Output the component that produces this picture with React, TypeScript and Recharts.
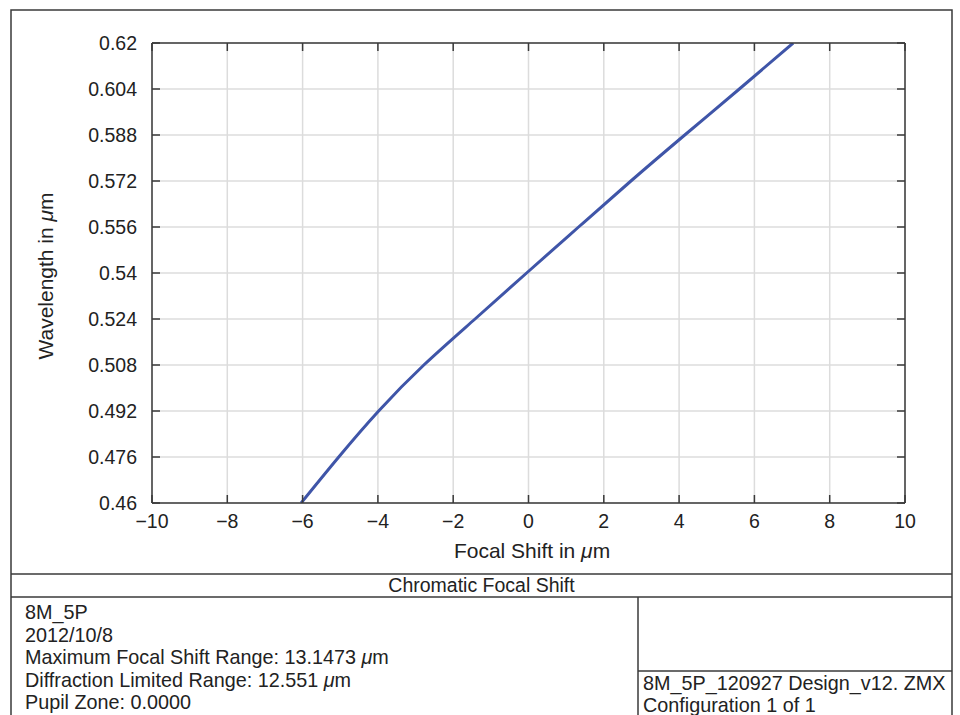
import React from 'react';
import { LineChart, Line, XAxis, YAxis, CartesianGrid } from 'recharts';

const wavelengths = [0.46, 0.476, 0.492, 0.508, 0.524, 0.54, 0.556, 0.572, 0.588, 0.604, 0.62];
const focalShift = [-6.04, -5.04, -3.98, -2.78, -1.42, -0.05, 1.33, 2.72, 4.15, 5.6, 7.03];

const xTicks = [-10, -8, -6, -4, -2, 0, 2, 4, 6, 8, 10];
const yTicks = [0.46, 0.476, 0.492, 0.508, 0.524, 0.54, 0.556, 0.572, 0.588, 0.604, 0.62];

const infoLines = [
  '8M_5P',
  '2012/10/8',
  'Maximum Focal Shift Range: 13.1473 |m',
  'Diffraction Limited Range: 12.551 |m',
  'Pupil Zone: 0.0000',
];
const fileLines = ['8M_5P_120927 Design_v12. ZMX', 'Configuration 1 of 1'];

const data = wavelengths.map((wl, i) => ({ shift: focalShift[i], wl }));

const FONT = '"Liberation Sans", Arial, Helvetica, sans-serif';
const FRAME = '#3a3a3a';
const TEXT = '#222';
const TICK_LEN = 8;
const TICK_FONT = 19.5;

const fmtX = (v: number) => (v < 0 ? `\u2212${Math.abs(v)}` : `${v}`);

// "|m" marks an italic mu
const withMu = (s: string) => {
  const parts = s.split('|');
  return parts.map((p, i) =>
    i === 0 ? (
      <tspan key={i}>{p}</tspan>
    ) : (
      <React.Fragment key={i}>
        <tspan fontStyle="italic">{'\u03bc'}</tspan>
        <tspan>{p}</tspan>
      </React.Fragment>
    )
  );
};

const BottomTick = (props: any) => {
  const { x, y, payload } = props;
  return (
    <g>
      <line x1={x} x2={x} y1={y} y2={y - TICK_LEN} stroke={FRAME} strokeWidth={1.5} />
      <text x={x} y={y + 25} textAnchor="middle" fontSize={TICK_FONT} fill={TEXT} fontFamily={FONT}>
        {fmtX(payload.value)}
      </text>
    </g>
  );
};

const LeftTick = (props: any) => {
  const { x, y, payload } = props;
  return (
    <g>
      <line x1={x} x2={x + TICK_LEN} y1={y} y2={y} stroke={FRAME} strokeWidth={1.5} />
      <text x={x - 15} y={y + 7} textAnchor="end" fontSize={TICK_FONT} fill={TEXT} fontFamily={FONT}>
        {String(payload.value)}
      </text>
    </g>
  );
};

const TopTick = (props: any) => {
  const { x, y } = props;
  return <line x1={x} x2={x} y1={y} y2={y + TICK_LEN} stroke={FRAME} strokeWidth={1.5} />;
};

const RightTick = (props: any) => {
  const { x, y } = props;
  return <line x1={x} x2={x - TICK_LEN} y1={y} y2={y} stroke={FRAME} strokeWidth={1.5} />;
};

export default function App() {
  return (
    <div style={{ position: 'absolute', left: 0, top: 0, width: 960, height: 715, background: '#fff' }}>
      <LineChart
        width={960}
        height={715}
        data={data}
        margin={{ top: 42, right: 54, bottom: 211, left: 151 }}
      >
        <CartesianGrid stroke="#dcdcdc" strokeWidth={1.5} />
        <XAxis
          dataKey="shift"
          type="number"
          domain={[-10, 10]}
          ticks={xTicks}
          height={1}
          tickSize={0}
          tickMargin={0}
          tickLine={false}
          tick={BottomTick}
          axisLine={{ stroke: FRAME, strokeWidth: 1.5 }}
          allowDataOverflow
        />
        <XAxis
          xAxisId="top"
          orientation="top"
          dataKey="shift"
          type="number"
          domain={[-10, 10]}
          ticks={xTicks}
          height={1}
          tickSize={0}
          tickMargin={0}
          tickLine={false}
          tick={TopTick}
          axisLine={{ stroke: FRAME, strokeWidth: 1.5 }}
          allowDataOverflow
        />
        <YAxis
          type="number"
          domain={[0.46, 0.62]}
          ticks={yTicks}
          width={1}
          tickSize={0}
          tickMargin={0}
          tickLine={false}
          tick={LeftTick}
          axisLine={{ stroke: FRAME, strokeWidth: 1.5 }}
          allowDataOverflow
        />
        <YAxis
          yAxisId="right"
          orientation="right"
          type="number"
          domain={[0.46, 0.62]}
          ticks={yTicks}
          width={1}
          tickSize={0}
          tickMargin={0}
          tickLine={false}
          tick={RightTick}
          axisLine={{ stroke: FRAME, strokeWidth: 1.5 }}
          allowDataOverflow
        />
        <Line
          type="natural"
          dataKey="wl"
          stroke="#3f55a8"
          strokeWidth={3}
          dot={false}
          isAnimationActive={false}
        />
        <Line
          xAxisId="top"
          yAxisId="right"
          type="natural"
          dataKey="wl"
          stroke="none"
          dot={false}
          isAnimationActive={false}
        />
      </LineChart>

      <svg
        width={960}
        height={715}
        style={{ position: 'absolute', left: 0, top: 0, pointerEvents: 'none' }}
        fontFamily={FONT}
      >
        {/* outer frame and footer boxes */}
        <path d="M11,720 V10 H952 V720" fill="none" stroke={FRAME} strokeWidth={1.5} />
        <line x1={11} x2={952} y1={574} y2={574} stroke={FRAME} strokeWidth={1.5} />
        <line x1={11} x2={952} y1={597} y2={597} stroke={FRAME} strokeWidth={1.5} />
        <line x1={638} x2={638} y1={597} y2={720} stroke={FRAME} strokeWidth={1.5} />
        <line x1={638} x2={952} y1={671} y2={671} stroke={FRAME} strokeWidth={1.5} />

        {/* axis titles */}
        <text x={532} y={557.5} textAnchor="middle" fontSize={21} fill={TEXT}>
          {withMu('Focal Shift in |m')}
        </text>
        <text
          x={53}
          y={276}
          textAnchor="middle"
          fontSize={21}
          fill={TEXT}
          transform="rotate(-90 53 276)"
        >
          {withMu('Wavelength in |m')}
        </text>

        <text x={481.5} y={592} textAnchor="middle" fontSize={19.5} fill={TEXT}>
          Chromatic Focal Shift
        </text>

        {infoLines.map((s, i) => (
          <text key={s} x={25} y={619 + i * 22.5} fontSize={19.8} fill={TEXT}>
            {withMu(s)}
          </text>
        ))}
        {fileLines.map((s, i) => (
          <text key={s} x={643} y={690 + i * 22} fontSize={19.8} fill={TEXT}>
            {s}
          </text>
        ))}
      </svg>
    </div>
  );
}
